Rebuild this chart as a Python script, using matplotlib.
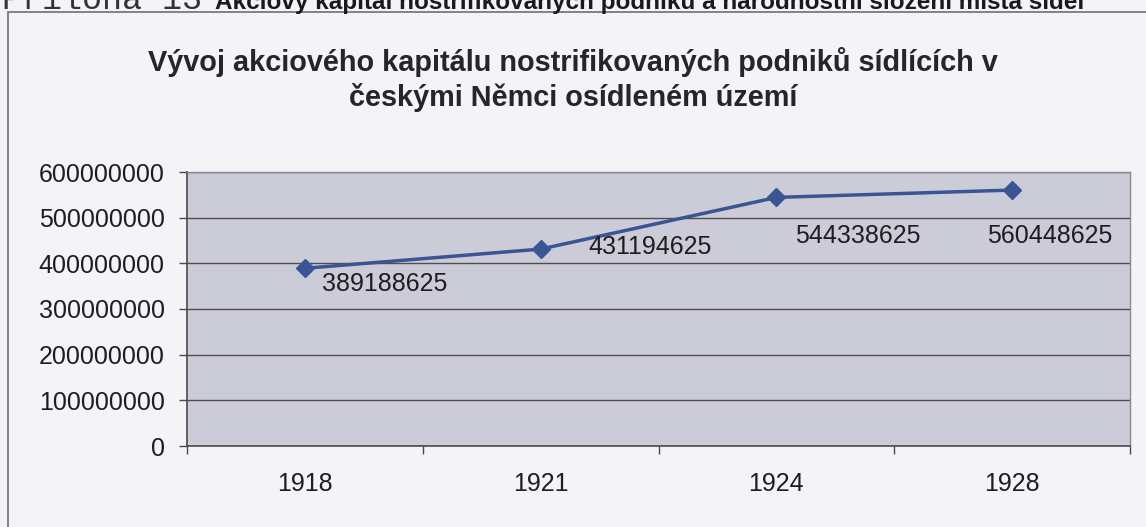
import matplotlib
matplotlib.use("Agg")
import matplotlib.pyplot as plt
from matplotlib.patches import Rectangle
from matplotlib.ticker import FixedLocator, NullFormatter

years = ["1918", "1921", "1924", "1928"]
capital = [389188625, 431194625, 544338625, 560448625]
y_ticks = [0, 100000000, 200000000, 300000000, 400000000, 500000000, 600000000]
title_lines = ["Vývoj akciového kapitálu nostrifikovaných podniků sídlících v",
               "českými Němci osídleném území"]
page_prefix = "Příloha 13"
page_caption = "Akciový kapitál nostrifikovaných podniků a národnostní složení místa sídel"
label_offsets = [(17, -16), (48, 2), (19, -39), (-25, -46)]

W, H = 1146, 527
fig = plt.figure(figsize=(W / 100, H / 100), dpi=100)
fig.patch.set_facecolor("#f3f3f8")

FONT = "Liberation Sans"

# chart frame
fig.patches.append(Rectangle((8 / W, -0.05), 1.2, 1 - 12 / H + 0.05,
                             transform=fig.transFigure, fill=False,
                             edgecolor="#6e6e74", lw=1.2))

# page text partially cut at the top (as in the scanned reference)
fig.text(2 / W, 1 - 9 / H, page_prefix, family="Liberation Mono", fontsize=24,
         color="#333333", va="baseline", ha="left")
fig.text(215 / W, 1 - 9 / H, page_caption, family=FONT, fontsize=17.5,
         fontweight="bold", color="#1a1a1a", va="baseline", ha="left")

# titles
fig.text(0.5, 1 - 62 / H, title_lines[0], family=FONT, fontsize=20.8,
         fontweight="bold", color="#262626", ha="center", va="center")
fig.text(0.5, 1 - 97 / H, title_lines[1], family=FONT, fontsize=20.8,
         fontweight="bold", color="#262626", ha="center", va="center")

left, right, top, bottom = 187, 1130, 172, 446
ax = fig.add_axes([left / W, 1 - bottom / H, (right - left) / W, (bottom - top) / H])
ax.set_facecolor("#cbccd8")

x = list(range(len(years)))
ax.set_xlim(-0.5, len(years) - 0.5)
ax.set_ylim(0, 600000000)

ax.yaxis.grid(True, color="#4e4e50", lw=1.0)
ax.set_axisbelow(True)

ax.plot(x, capital, color="#3a5594", lw=2.5, marker="D", markersize=9,
        markerfacecolor="#3a5594", markeredgecolor="#3a5594", zorder=3)

for xi, v, (dx, dy) in zip(x, capital, label_offsets):
    ax.annotate(str(v), (xi, v), xytext=(dx, dy), textcoords="offset pixels",
                family=FONT, fontsize=18, color="#1e1e1e", ha="left", va="center")

ax.set_yticks(y_ticks)
ax.set_yticklabels([str(t) for t in y_ticks], family=FONT, fontsize=18, color="#1e1e1e")
ax.tick_params(axis="y", length=6, width=1.0, color="#4a4a4a", pad=10)

ax.xaxis.set_major_locator(FixedLocator([i - 0.5 for i in range(len(years) + 1)]))
ax.xaxis.set_major_formatter(NullFormatter())
ax.xaxis.set_minor_locator(FixedLocator(x))
ax.set_xticklabels(years, minor=True, family=FONT, fontsize=18, color="#1e1e1e")
ax.tick_params(axis="x", which="major", length=6, width=1.0, color="#4a4a4a")
ax.tick_params(axis="x", which="minor", length=0, pad=19)

for s in ["left", "bottom"]:
    ax.spines[s].set_color("#4a4a4a")
    ax.spines[s].set_linewidth(1.2)
for s in ["top", "right"]:
    ax.spines[s].set_color("#8a8a92")
    ax.spines[s].set_linewidth(1.0)

fig.savefig("out.png", dpi=100, facecolor=fig.get_facecolor())
